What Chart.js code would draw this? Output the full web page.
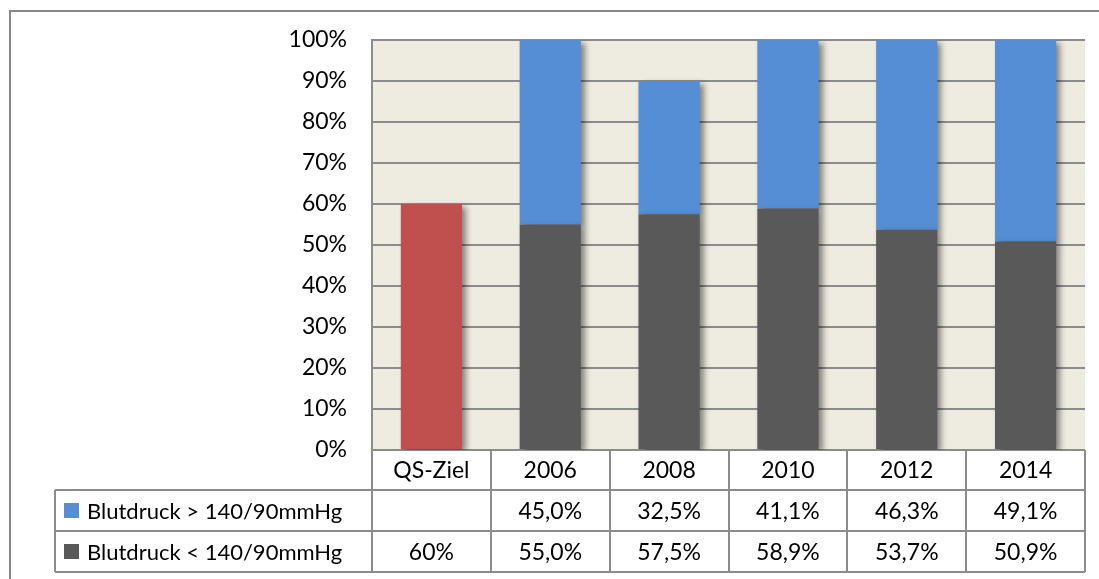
<!DOCTYPE html>
<html>
<head>
<meta charset="utf-8">
<script src="https://cdn.jsdelivr.net/npm/chart.js@4/dist/chart.umd.min.js"></script>
<style>
  html, body { margin: 0; padding: 0; background: #fff; }
  #wrap { width: 1099px; height: 579px; position: relative; }
</style>
</head>
<body>
<div id="wrap"><canvas id="chart" width="1099" height="579"></canvas></div>
<script>
const categories = ['QS-Ziel', '2006', '2008', '2010', '2012', '2014'];
const belowValues = [60, 55.0, 57.5, 58.9, 53.7, 50.9];
const aboveValues = [null, 45.0, 32.5, 41.1, 46.3, 49.1];
const belowLabel = 'Blutdruck < 140/90mmHg';
const aboveLabel = 'Blutdruck > 140/90mmHg';
const yTicks = [0, 10, 20, 30, 40, 50, 60, 70, 80, 90, 100];

const BLUE = '#558ED5';
const DARK = '#595959';
const RED = '#C0504D';
const LINE = '#8c8c8c';
const FONT = 'Lato, "Open Sans", sans-serif';
const FONT_SIZE = 23;

function fmt(v, i) {
    if (v === null || v === undefined) return '';
    if (i === 0) return v + '%';
    return v.toFixed(1).replace('.', ',') + '%';
}

// white page, outer frame and plot background
const backgroundPlugin = {
    id: 'bg',
    beforeDraw(chart) {
        const { ctx, chartArea } = chart;
        ctx.save();
        ctx.fillStyle = '#fff';
        ctx.fillRect(0, 0, chart.width, chart.height);
        ctx.strokeStyle = '#888';
        ctx.lineWidth = 2;
        ctx.beginPath();
        ctx.moveTo(10, chart.height + 5);
        ctx.lineTo(10, 11);
        ctx.lineTo(chart.width + 5, 11);
        ctx.stroke();
        ctx.fillStyle = '#EEECE1';
        ctx.fillRect(chartArea.left, chartArea.top, chartArea.right - chartArea.left, chartArea.bottom - chartArea.top);
        ctx.restore();
    }
};

// soft shadow to the lower right of the bars
const shadowPlugin = {
    id: 'barShadow',
    beforeDatasetsDraw(chart) {
        const ctx = chart.ctx;
        ctx.save();
        ctx.shadowColor = 'rgba(0,0,0,0.45)';
        ctx.shadowOffsetX = 4;
        ctx.shadowOffsetY = 3;
        ctx.shadowBlur = 6;
    },
    afterDatasetsDraw(chart) {
        chart.ctx.restore();
    }
};

// data table under the plot
const tablePlugin = {
    id: 'dataTable',
    afterDraw(chart) {
        const { ctx, chartArea } = chart;
        const xs = chart.scales.x;
        const n = categories.length;
        const half = (chartArea.right - chartArea.left) / n / 2;
        const top = chartArea.bottom;
        const headH = 40, rowH = 41;
        const r1 = top + headH, r2 = r1 + rowH, r3 = r2 + rowH;
        const tableLeft = 55;

        ctx.save();
        ctx.strokeStyle = LINE;
        ctx.lineWidth = 2;
        ctx.beginPath();
        // verticals
        for (let i = 0; i < n; i++) {
            const x = Math.round(xs.getPixelForValue(i) - half);
            ctx.moveTo(x, top); ctx.lineTo(x, r3);
        }
        ctx.moveTo(chartArea.right, top); ctx.lineTo(chartArea.right, r3);
        ctx.moveTo(tableLeft, r1); ctx.lineTo(tableLeft, r3);
        // horizontals
        [r1, r2, r3].forEach(y => { ctx.moveTo(tableLeft, y); ctx.lineTo(chartArea.right, y); });
        ctx.stroke();

        ctx.fillStyle = '#000';
        ctx.font = FONT_SIZE + 'px ' + FONT;
        ctx.textAlign = 'center';
        ctx.textBaseline = 'middle';
        categories.forEach((c, i) => {
            const x = xs.getPixelForValue(i);
            ctx.fillText(c, x, top + headH / 2 + 1);
            ctx.fillText(fmt(aboveValues[i], i), x, r1 + rowH / 2 + 1);
            ctx.fillText(fmt(belowValues[i], i), x, r2 + rowH / 2 + 1);
        });

        ctx.textAlign = 'left';
        ctx.fillStyle = BLUE;
        ctx.fillRect(64, r1 + 13, 15, 15);
        ctx.fillStyle = DARK;
        ctx.fillRect(64, r2 + 13, 15, 15);
        ctx.fillStyle = '#000';
        ctx.font = '22px ' + FONT;
        ctx.fillText(aboveLabel, 87, r1 + rowH / 2 + 1);
        ctx.fillText(belowLabel, 87, r2 + rowH / 2 + 1);
        ctx.restore();
    }
};

const chart = new Chart(document.getElementById('chart'), {
    type: 'bar',
    data: {
        labels: categories,
        datasets: [
            {
                label: belowLabel,
                data: belowValues,
                backgroundColor: belowValues.map((v, i) => i === 0 ? RED : DARK),
                categoryPercentage: 1,
                barPercentage: 0.515
            },
            {
                label: aboveLabel,
                data: aboveValues,
                backgroundColor: BLUE,
                categoryPercentage: 1,
                barPercentage: 0.515
            }
        ]
    },
    options: {
        responsive: false,
        animation: false,
        devicePixelRatio: 1,
        layout: { padding: { left: 272, top: 40, right: 14, bottom: 129 } },
        plugins: {
            legend: { display: false },
            tooltip: { enabled: false }
        },
        scales: {
            x: {
                stacked: true,
                display: false
            },
            y: {
                stacked: true,
                min: 0,
                max: 100,
                afterFit: (axis) => { axis.width = 100; },
                afterBuildTicks: (axis) => { axis.ticks = yTicks.map(v => ({ value: v })); },
                ticks: {
                    color: '#000',
                    padding: 25,
                    font: { family: FONT, size: FONT_SIZE },
                    callback: (v) => v + '%'
                },
                grid: { color: LINE, lineWidth: 2, drawTicks: false },
                border: { display: true, color: LINE, width: 2 }
            }
        }
    },
    plugins: [backgroundPlugin, shadowPlugin, tablePlugin]
});
</script>
</body>
</html>
